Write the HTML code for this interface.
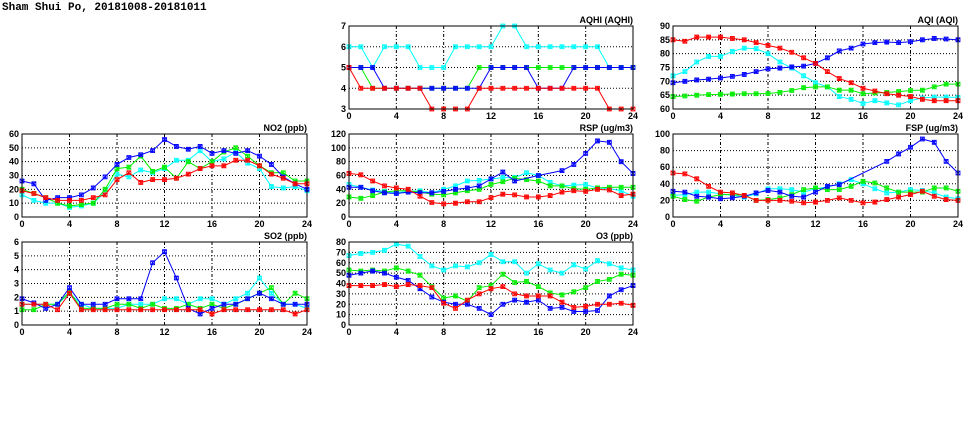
<!DOCTYPE html>
<html><head><meta charset="utf-8"><style>
body{margin:0;background:#fff;width:975px;height:447px;overflow:hidden}
svg{display:block}
text{font-family:"Liberation Sans",sans-serif;font-weight:bold;font-size:9px;fill:#000}
</style></head><body>
<svg id="chart" width="975" height="447" viewBox="0 0 975 447">
<text x="2" y="10" style="font-size:11px;font-family:'Liberation Mono',monospace">Sham Shui Po, 20181008-20181011</text>
</svg>
<script>
const hours=[0,1,2,3,4,5,6,7,8,9,10,11,12,13,14,15,16,17,18,19,20,21,22,23,24];
const aqhiCyan=[6,6,5,6,6,6,5,5,5,6,6,6,6,7,7,6,6,6,6,6,6,6,5,5,5];
const aqhiGreen=[5,5,4,4,4,4,4,4,4,4,4,5,5,5,5,5,5,5,5,5,5,5,5,5,5];
const aqhiBlue=[5,5,5,4,4,4,4,4,4,4,4,4,5,5,5,5,4,4,4,5,5,5,5,5,5];
const aqhiRed=[5,4,4,4,4,4,4,3,3,3,3,4,4,4,4,4,4,4,4,4,4,4,3,3,3];
const aqiCyan=[72,73.5,77,79,79,80.8,82,81.8,80,77,74.8,72,69.5,68,64.5,63.5,62,63,62.2,61.5,63,64,64.3,64.3,64.2];
const aqiGreen=[64.5,64.7,65,65.2,65.3,65.4,65.5,65.5,65.6,66,66.7,67.7,68,68,66.8,66.8,65.5,65.8,66,66.3,66.7,66.8,68,69,69];
const aqiBlue=[69.5,70,70.5,70.8,71.2,71.8,72.5,73.5,74.5,74.8,75.2,75.5,76.5,78.5,81,82,83.5,84,84.2,84,84.3,85,85.5,85.3,85];
const aqiRed=[85,84.5,86,86,86,85.5,85,84,83,82,80.5,78.5,76.5,73.5,71,69.5,67.5,66.5,65.5,65,64.5,63.5,63,63,63];
const no2Cyan=[16,12,10,10,7,8,10,18,31,29,34,32,35,41,41,48,40,42,47,39,35,22,21,22,19];
const no2Green=[20,17,14,10,8,9,10,20,35,36,44,33,36,28,40,35,40,47,50,44,37,32,32,26,26];
const no2Blue=[26,24,12,14,14,16,21,29,38,43,45,48,56,51,49,51,46,48,46,48,44,38,29,24,20];
const no2Red=[19,17,14,12,12,12,14,16,27,32,25,27,27,28,31,35,37,37,41,41,37,31,28,24,24];
const rspCyan=[47,43,39,37,35,37,38,35,40,45,52,53,55,57,57,64,60,50,45,46,47,42,41,38,30];
const rspGreen=[29,27,31,36,38,38,36,33,32,35,38,40,47,51,56,54,52,45,45,41,40,42,43,43,43];
const rspBlue=[43,43,38,35,34,36,35,35,37,40,42,45,55,65,52,null,60,null,67,76,92,110,108,80,63];
const rspRed=[63,61,52,45,42,40,30,21,19,20,22,22,28,33,32,29,29,31,36,38,37,40,39,31,33];
const fspCyan=[26,27,30,30,28,26,24,28,34,34,33,30,34,36,40,45,40,34,29,30,33,32,29,24,22];
const fspGreen=[25,21,19,24,27,27,26,20,21,23,27,33,35,33,33,37,43,41,35,30,30,30,35,35,31];
const fspBlue=[31,30,25,24,22,23,25,29,32,30,25,24,30,37,39,null,null,null,67,76,84,94,90,67,53];
const fspRed=[53,52,46,37,30,29,26,20,20,20,19,17,18,20,23,20,17,18,21,24,27,31,25,21,20];
const so2Cyan=[1.5,1.5,1.5,1.5,2.3,1.5,1.2,1.2,1.2,1.5,1.5,1.5,1.9,1.9,1.5,1.9,1.9,1.5,1.9,2.3,3.4,2.3,1.5,1.5,1.2];
const so2Green=[1.1,1.1,1.5,1.5,2.4,1.2,1.2,1.2,1.5,1.5,1.2,1.5,1.2,1.2,1.5,1.2,1.5,1.2,1.5,1.9,2.3,2.7,1.5,2.3,1.9];
const so2Blue=[1.9,1.6,1.2,1.5,2.7,1.5,1.5,1.5,1.9,1.9,1.9,4.5,5.3,3.4,1.2,0.8,1.2,1.5,1.5,1.9,2.3,1.9,1.5,1.5,1.5];
const so2Red=[1.5,1.5,1.5,1.1,2.3,1.1,1.1,1.1,1.1,1.1,1.1,1.1,1.1,1.1,1.1,1.1,0.8,1.1,1.1,1.1,1.1,1.1,1.1,0.8,1.1];
const o3Cyan=[67,69,70,72,78,76,66,57,53,57,56,60,68,61,61,50,59,53,50,58,54,62,59,55,53];
const o3Green=[53,52,53,52,55,52,48,37,26,28,23,36,38,49,41,42,37,31,29,32,36,42,44,49,48];
const o3Blue=[48,50,52,50,46,43,35,27,22,20,20,16,10,20,24,22,24,16,17,13,13,14,28,34,38];
const o3Red=[38,38,38,39,37,39,38,36,21,16,24,30,35,37,30,28,28,28,22,17,18,20,20,21,19];
const xTicks=[0,4,8,12,16,20,24];

const colors={cyan:'#00ffff',green:'#00ee00',blue:'#0000ff',red:'#ff0000'};
const panels=[
 {name:'aqhi',title:'AQHI (AQHI)',x0:349,x1:633,y0:26,y1:109,min:3,max:7,step:1,s:[aqhiCyan,aqhiGreen,aqhiBlue,aqhiRed]},
 {name:'aqi',title:'AQI (AQI)',x0:673,x1:958,y0:26,y1:109,min:60,max:90,step:5,s:[aqiCyan,aqiGreen,aqiBlue,aqiRed]},
 {name:'no2',title:'NO2 (ppb)',x0:22,x1:307,y0:134,y1:217,min:0,max:60,step:10,s:[no2Cyan,no2Green,no2Blue,no2Red]},
 {name:'rsp',title:'RSP (ug/m3)',x0:349,x1:633,y0:134,y1:217,min:0,max:120,step:20,s:[rspCyan,rspGreen,rspBlue,rspRed]},
 {name:'fsp',title:'FSP (ug/m3)',x0:673,x1:958,y0:134,y1:217,min:0,max:100,step:20,s:[fspCyan,fspGreen,fspBlue,fspRed]},
 {name:'so2',title:'SO2 (ppb)',x0:22,x1:307,y0:242,y1:325,min:0,max:6,step:1,s:[so2Cyan,so2Green,so2Blue,so2Red]},
 {name:'o3',title:'O3 (ppb)',x0:349,x1:633,y0:242,y1:325,min:0,max:80,step:10,s:[o3Cyan,o3Green,o3Blue,o3Red]}
];
const cols=['cyan','green','blue','red'];
const svg=document.getElementById('chart');
const NS='http://www.w3.org/2000/svg';
function mk(tag,attrs,parent){const e=document.createElementNS(NS,tag);for(const k in attrs)e.setAttribute(k,attrs[k]);(parent||svg).appendChild(e);return e;}
panels.forEach(p=>{
 const g=mk('g',{});
 
 
 const xs=h=>p.x0+(p.x1-p.x0)*h/24;
 const ys=v=>p.y1-(p.y1-p.y0)*(v-p.min)/(p.max-p.min);
 for(let v=p.min+p.step;v<p.max-1e-9;v+=p.step){
  const l=mk('line',{x1:p.x0,x2:p.x1,y1:ys(v),y2:ys(v),stroke:'#000','stroke-width':1,'stroke-dasharray':'1,2'},g);
  
  
 }
 xTicks.forEach(h=>{
  if(h>0&&h<24){
   const l=mk('line',{x1:xs(h),x2:xs(h),y1:p.y0,y2:p.y1,stroke:'#000','stroke-width':1,'stroke-dasharray':'3,2,1,2'},g);
   
   
  }
  const t=mk('text',{x:xs(h),y:p.y1+10,'text-anchor':'middle'},g);
  t.textContent=h;
  
  
 });
 for(let v=p.min;v<=p.max+1e-9;v+=p.step){
  const t=mk('text',{x:p.x0-3,y:ys(v)+3,'text-anchor':'end'},g);
  t.textContent=Math.round(v*10)/10;
  
  
 }
 const tt=mk('text',{x:p.x1,y:p.y0-3,'text-anchor':'end'},g);
 tt.textContent=p.title;
 
 
 p.s.forEach((arr,i)=>{
  const c=colors[cols[i]];
  const pts=[];
  arr.forEach((v,k)=>{if(v!==null)pts.push([xs(hours[k]),ys(v)]);});
  const line=mk('polyline',{points:pts.map(q=>q.join(',')).join(' '),fill:'none',stroke:c,'stroke-width':1},g);
  
  
  pts.forEach(q=>{
   const d=2,x=q[0],y=q[1];
   const m=mk('path',{d:`M${x-d},${y-d}h${2*d}v${2*d}h${-2*d}z M${x-d},${y-d}L${x+d},${y+d}M${x+d},${y-d}L${x-d},${y+d}M${x},${y-d}V${y+d}`,fill:'none',stroke:c,'stroke-width':0.8},g);
   
   
  });
 });
 const fr=mk('rect',{x:p.x0,y:p.y0,width:p.x1-p.x0,height:p.y1-p.y0,fill:'none',stroke:'#000','stroke-width':1},g);
 
 
});
</script>
</body></html>
